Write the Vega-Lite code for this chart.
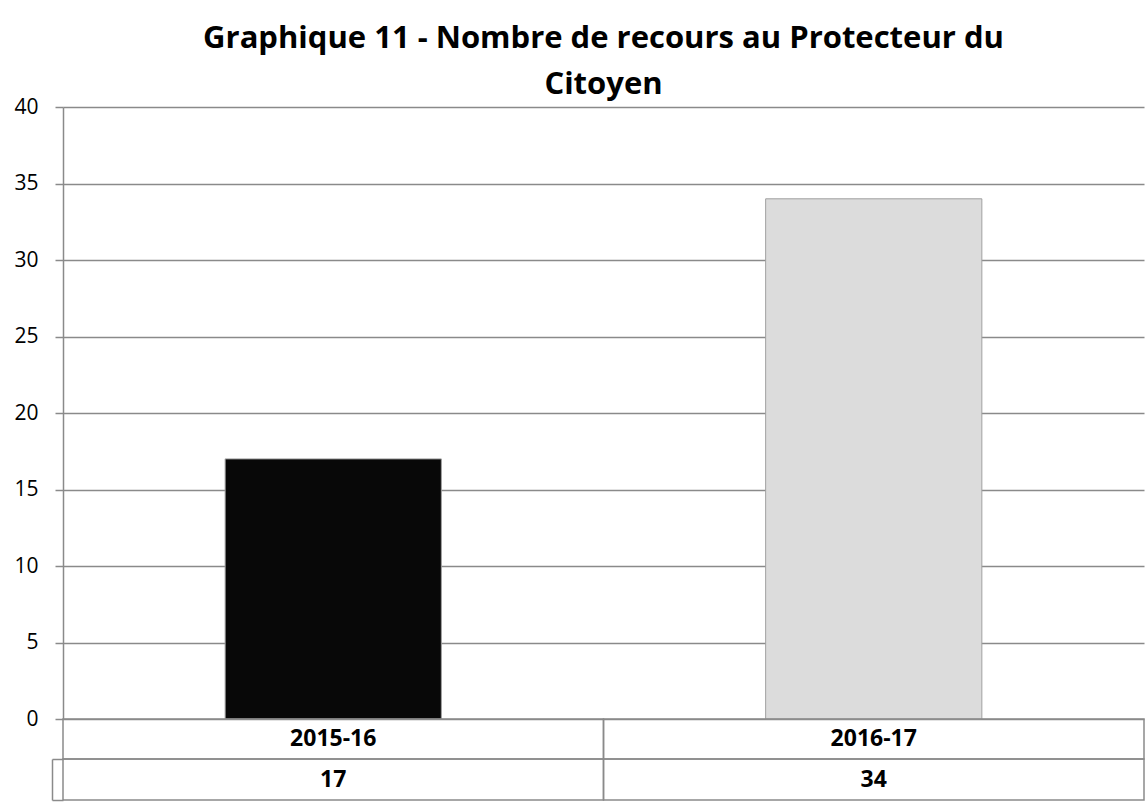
{
  "$schema": "https://vega.github.io/schema/vega-lite/v6.json",
  "background": "white",
  "padding": {"left": 13, "top": 23, "right": 2, "bottom": 4},
  "datasets": {
    "recours": [
      {"annee": "2015-16", "recours": 17},
      {"annee": "2016-17", "recours": 34}
    ]
  },
  "title": {
    "text": ["Graphique 11 - Nombre de recours au Protecteur du", "Citoyen"],
    "font": "Open Sans",
    "fontSize": 31,
    "fontWeight": "bold",
    "color": "black",
    "anchor": "middle",
    "frame": "group",
    "lineHeight": 46,
    "offset": -5
  },
  "spacing": 0,
  "bounds": "flush",
  "vconcat": [
    {
      "width": 1081,
      "height": 612,
      "data": {"name": "recours"},
      "mark": {"type": "bar", "stroke": "#a0a0a0", "strokeWidth": 1},
      "encoding": {
        "x": {
          "field": "annee",
          "type": "nominal",
          "scale": {"paddingInner": 0.6, "paddingOuter": 0.3},
          "axis": null
        },
        "y": {
          "field": "recours",
          "type": "quantitative",
          "scale": {"domain": [0, 40]},
          "axis": {
            "values": [0, 5, 10, 15, 20, 25, 30, 35, 40],
            "title": null,
            "grid": true,
            "gridColor": "#8a8a8a",
            "gridWidth": 1.5,
            "domain": true,
            "domainColor": "#8a8a8a",
            "domainWidth": 1.5,
            "ticks": true,
            "tickColor": "#8a8a8a",
            "tickSize": 8,
            "tickWidth": 1.5,
            "labelFont": "Open Sans",
            "labelFontSize": 21,
            "labelColor": "black",
            "labelPadding": 17
          }
        },
        "color": {
          "field": "annee",
          "type": "nominal",
          "scale": {"domain": ["2015-16", "2016-17"], "range": ["#080808", "#dcdcdc"]},
          "legend": null
        }
      }
    },
    {
      "width": 1081,
      "height": 40,
      "data": {"name": "recours"},
      "encoding": {
        "x": {
          "field": "annee",
          "type": "nominal",
          "scale": {"paddingInner": 0, "paddingOuter": 0},
          "axis": null
        }
      },
      "layer": [
        {"mark": {"type": "rect", "fill": "transparent", "stroke": "#8a8a8a", "strokeWidth": 1.5}},
        {
          "mark": {"type": "text", "font": "Open Sans", "fontWeight": "bold", "fontSize": 23, "color": "black", "baseline": "middle"},
          "encoding": {"text": {"field": "annee"}}
        }
      ]
    },
    {
      "width": 1081,
      "height": 41,
      "data": {"name": "recours"},
      "encoding": {
        "x": {
          "field": "annee",
          "type": "nominal",
          "scale": {"paddingInner": 0, "paddingOuter": 0},
          "axis": null
        },
        "y": {
          "datum": "valeur",
          "type": "nominal",
          "scale": {"paddingInner": 0, "paddingOuter": 0},
          "axis": {
            "title": null,
            "labels": false,
            "offset": 11,
            "domain": true,
            "domainColor": "#8a8a8a",
            "domainWidth": 1.5,
            "ticks": true,
            "tickBand": "extent",
            "tickSize": -11,
            "tickColor": "#8a8a8a",
            "tickWidth": 1.5
          }
        }
      },
      "layer": [
        {"mark": {"type": "rect", "fill": "transparent", "stroke": "#8a8a8a", "strokeWidth": 1.5}},
        {
          "mark": {"type": "text", "font": "Open Sans", "fontWeight": "bold", "fontSize": 23, "color": "black", "baseline": "middle"},
          "encoding": {"text": {"field": "recours", "type": "quantitative"}}
        }
      ]
    }
  ],
  "config": {"view": {"stroke": null}}
}
